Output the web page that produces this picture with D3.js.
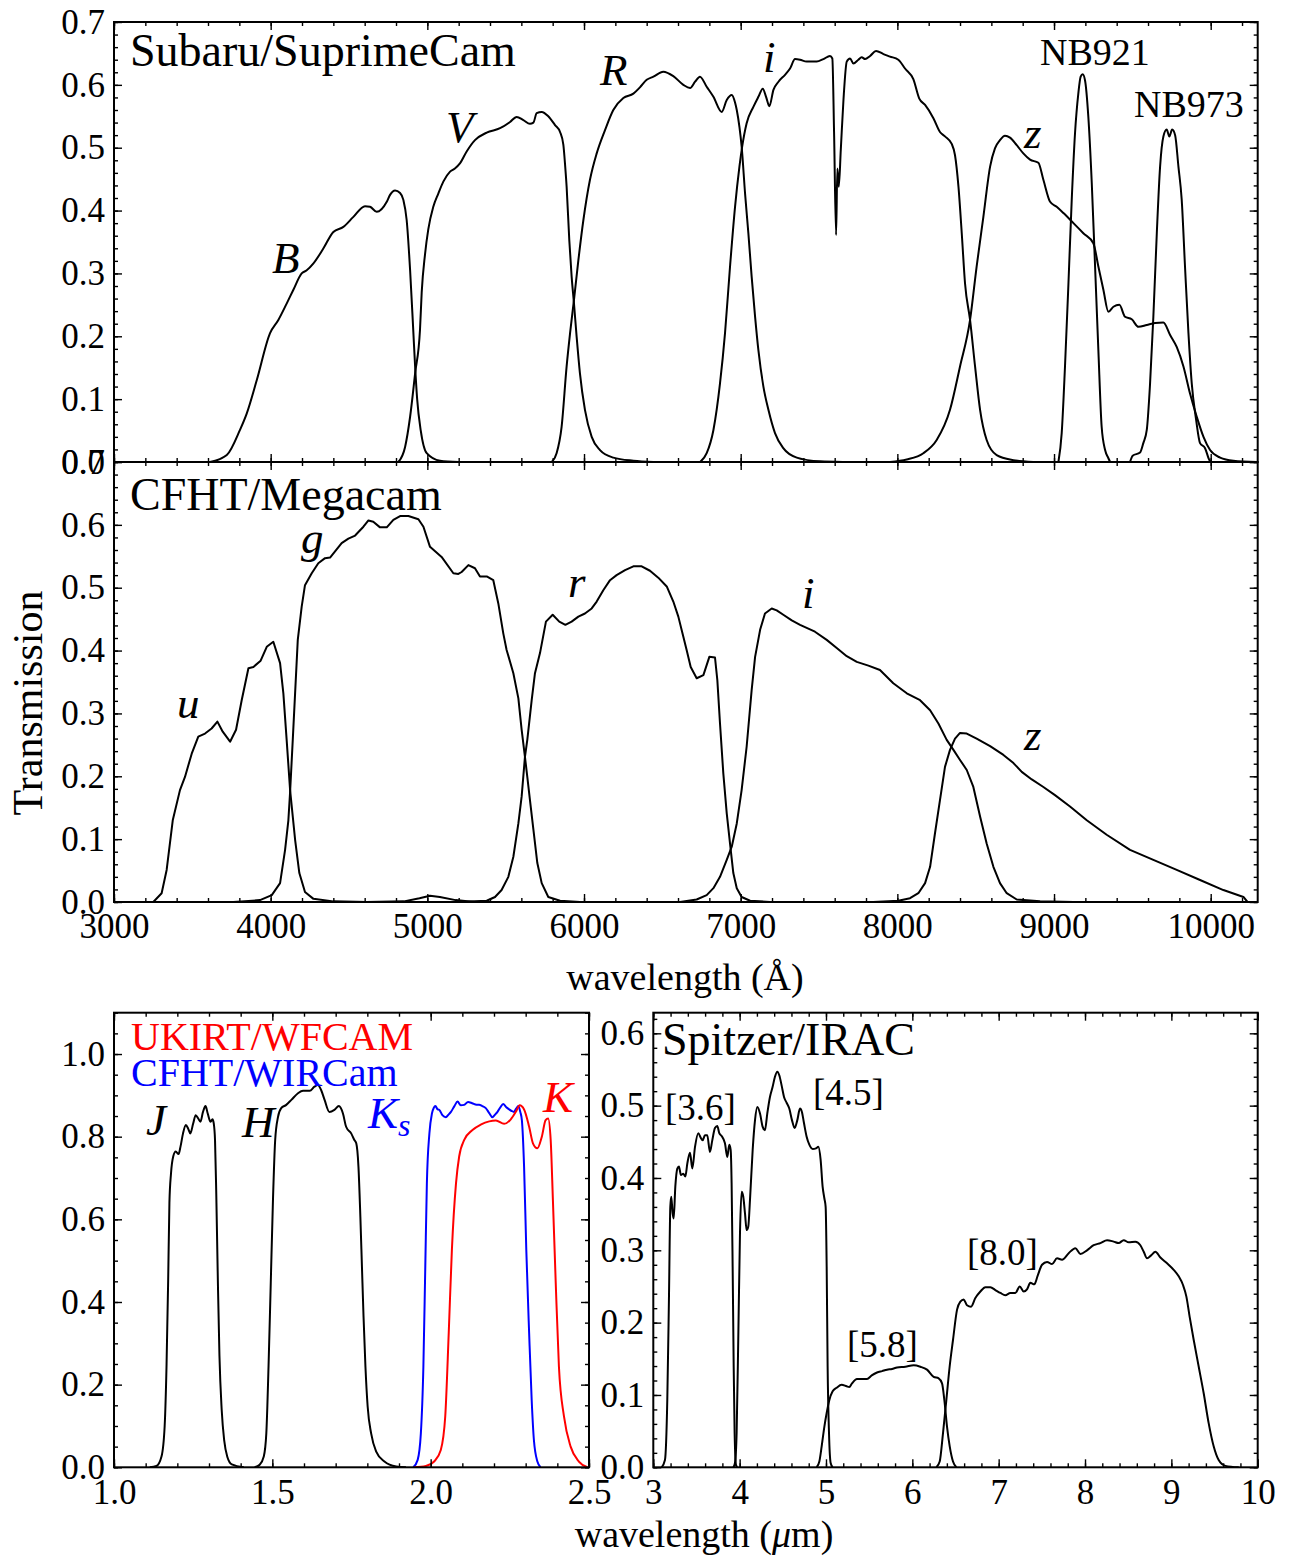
<!DOCTYPE html>
<html>
<head>
<meta charset="utf-8">
<script src="https://cdn.jsdelivr.net/npm/d3@7"></script>
<style>
  body { margin: 0; background: #fff; }
  text { font-family: 'Liberation Serif', 'Times New Roman', serif; fill: #000; }
</style>
</head>
<body>
<svg id="chart" width="1297" height="1559"></svg>
<script>
// ---- filter curves, [wavelength, transmission] ----
// Subaru / SuprimeCam (Angstrom)
const subaruB = [[3613,0],[3720,0.011],[3804,0.051],[3847,0.077],[3911,0.130],[3996,0.205],[4049,0.226],[4102,0.252],[4145,0.274],[4198,0.300],[4230,0.305],[4273,0.316],[4337,0.340],[4400,0.366],[4464,0.374],[4528,0.390],[4602,0.407],[4634,0.406],[4677,0.398],[4741,0.414],[4762,0.425],[4794,0.432],[4826,0.428],[4847,0.417],[4868,0.385],[4890,0.305],[4911,0.205],[4922,0.152],[4935,0.100],[4958,0.050],[4996,0.014],[5081,0.002],[5200,0]];
const subaruV = [[4815,0],[4858,0.024],[4890,0.072],[4922,0.141],[4953,0.210],[4964,0.270],[4985,0.330],[5006,0.370],[5038,0.406],[5070,0.427],[5102,0.446],[5145,0.462],[5176,0.467],[5208,0.475],[5251,0.494],[5304,0.512],[5379,0.524],[5464,0.531],[5528,0.541],[5570,0.549],[5613,0.544],[5655,0.538],[5677,0.540],[5698,0.555],[5730,0.557],[5772,0.550],[5815,0.536],[5847,0.525],[5868,0.505],[5880,0.470],[5889,0.438],[5906,0.353],[5921,0.295],[5936,0.252],[5953,0.199],[5974,0.141],[6006,0.083],[6049,0.040],[6102,0.019],[6187,0.007],[6315,0.002],[6443,0]];
const subaruR = [[5794,0],[5825,0.014],[5857,0.056],[5889,0.152],[5911,0.205],[5936,0.258],[5964,0.321],[5996,0.385],[6038,0.449],[6081,0.491],[6134,0.528],[6187,0.560],[6251,0.579],[6315,0.586],[6357,0.596],[6400,0.608],[6443,0.613],[6506,0.621],[6570,0.614],[6634,0.600],[6677,0.595],[6709,0.605],[6740,0.613],[6783,0.597],[6826,0.581],[6879,0.557],[6911,0.576],[6943,0.584],[6964,0.572],[6975,0.560],[6992,0.533],[7006,0.502],[7028,0.427],[7049,0.364],[7070,0.295],[7092,0.231],[7113,0.178],[7145,0.120],[7177,0.083],[7219,0.046],[7272,0.022],[7358,0.007],[7507,0.001],[7650,0]];
const subaruI = [[6741,0],[6783,0.014],[6826,0.051],[6868,0.125],[6900,0.205],[6932,0.311],[6964,0.406],[6992,0.470],[7009,0.501],[7038,0.539],[7081,0.565],[7113,0.581],[7141,0.594],[7162,0.581],[7183,0.566],[7209,0.592],[7241,0.605],[7283,0.616],[7315,0.626],[7347,0.641],[7379,0.640],[7421,0.637],[7485,0.637],[7528,0.641],[7570,0.646],[7585,0.642],[7596,0.525],[7609,0.361],[7617,0.467],[7626,0.438],[7639,0.497],[7656,0.576],[7677,0.637],[7698,0.642],[7719,0.634],[7751,0.640],[7772,0.644],[7794,0.641],[7826,0.646],[7864,0.654],[7911,0.649],[7953,0.645],[8006,0.640],[8049,0.626],[8102,0.609],[8140,0.578],[8177,0.568],[8230,0.547],[8272,0.525],[8304,0.518],[8347,0.506],[8368,0.488],[8390,0.438],[8411,0.364],[8432,0.284],[8464,0.226],[8496,0.152],[8528,0.083],[8570,0.035],[8634,0.011],[8741,0.003],[8868,0]];
const subaruZ = [[7953,0],[8060,0.004],[8166,0.014],[8251,0.035],[8336,0.083],[8400,0.152],[8464,0.226],[8506,0.311],[8549,0.390],[8592,0.470],[8623,0.499],[8655,0.512],[8687,0.519],[8719,0.516],[8762,0.504],[8804,0.491],[8847,0.481],[8900,0.476],[8932,0.449],[8975,0.414],[9017,0.406],[9060,0.396],[9124,0.380],[9187,0.364],[9251,0.348],[9283,0.311],[9315,0.274],[9347,0.239],[9379,0.247],[9417,0.250],[9453,0.231],[9496,0.227],[9539,0.215],[9592,0.218],[9645,0.221],[9698,0.222],[9741,0.202],[9783,0.183],[9826,0.152],[9868,0.109],[9911,0.072],[9954,0.040],[9996,0.019],[10060,0.007],[10145,0.002],[10294,0]];
const subaruNB921 = [[9028,0],[9049,0.046],[9070,0.152],[9092,0.284],[9113,0.417],[9134,0.523],[9155,0.586],[9170,0.613],[9183,0.617],[9198,0.607],[9219,0.549],[9241,0.443],[9262,0.311],[9283,0.178],[9304,0.056],[9326,0.019],[9347,0.006],[9358,0]];
const subaruNB973 = [[9485,0],[9502,0.010],[9549,0.015],[9570,0.030],[9592,0.051],[9613,0.125],[9634,0.231],[9656,0.364],[9677,0.470],[9698,0.518],[9719,0.529],[9736,0.518],[9754,0.529],[9773,0.520],[9794,0.470],[9815,0.417],[9836,0.311],[9858,0.205],[9879,0.125],[9907,0.067],[9932,0.030],[9964,0.022],[9992,0.003],[10007,0]];

// CFHT / Megacam (Angstrom)
const megaU = [[3251,0],[3304,0.014],[3336,0.051],[3375,0.130],[3421,0.178],[3453,0.199],[3496,0.236],[3538,0.263],[3581,0.268],[3623,0.276],[3660,0.287],[3694,0.271],[3741,0.255],[3779,0.274],[3815,0.321],[3858,0.372],[3890,0.374],[3936,0.384],[3975,0.406],[4017,0.414],[4060,0.380],[4081,0.332],[4102,0.258],[4124,0.178],[4156,0.099],[4183,0.046],[4219,0.016],[4273,0.005],[4400,0.001],[4613,0],[4850,0.001],[4950,0.006],[5017,0.010],[5080,0.008],[5180,0.003],[5300,0]];
const megaG = [[3762,0],[3932,0.003],[4007,0.011],[4060,0.030],[4092,0.083],[4113,0.130],[4124,0.175],[4141,0.258],[4173,0.417],[4198,0.470],[4219,0.504],[4262,0.523],[4304,0.539],[4347,0.547],[4379,0.548],[4453,0.571],[4496,0.578],[4539,0.583],[4592,0.597],[4624,0.607],[4655,0.605],[4698,0.596],[4741,0.596],[4783,0.608],[4826,0.614],[4879,0.614],[4943,0.609],[4975,0.597],[5017,0.565],[5091,0.549],[5166,0.523],[5198,0.522],[5219,0.525],[5262,0.536],[5304,0.531],[5336,0.518],[5379,0.518],[5421,0.512],[5453,0.475],[5485,0.427],[5506,0.401],[5549,0.364],[5581,0.324],[5602,0.274],[5623,0.231],[5638,0.199],[5655,0.162],[5677,0.115],[5702,0.062],[5730,0.030],[5772,0.008],[5847,0.002],[5974,0]];
const megaR = [[5187,0],[5379,0.002],[5432,0.008],[5474,0.019],[5517,0.040],[5549,0.072],[5581,0.125],[5602,0.168],[5623,0.231],[5638,0.258],[5666,0.321],[5687,0.364],[5719,0.396],[5757,0.446],[5800,0.457],[5842,0.446],[5881,0.441],[5921,0.446],[5964,0.454],[6006,0.459],[6049,0.467],[6081,0.478],[6123,0.496],[6166,0.512],[6208,0.520],[6262,0.528],[6315,0.534],[6368,0.534],[6421,0.527],[6474,0.516],[6528,0.502],[6570,0.478],[6602,0.454],[6634,0.422],[6655,0.401],[6681,0.374],[6719,0.356],[6762,0.361],[6800,0.390],[6836,0.389],[6851,0.353],[6868,0.284],[6889,0.205],[6911,0.141],[6932,0.093],[6953,0.046],[6975,0.022],[7006,0.008],[7060,0.002],[7187,0]];
const megaI = [[6613,0],[6719,0.004],[6783,0.011],[6826,0.022],[6868,0.040],[6911,0.067],[6943,0.088],[6975,0.125],[7006,0.178],[7038,0.247],[7070,0.337],[7092,0.390],[7124,0.433],[7155,0.459],[7198,0.467],[7230,0.464],[7272,0.457],[7326,0.448],[7379,0.441],[7474,0.430],[7549,0.417],[7613,0.404],[7677,0.391],[7741,0.382],[7815,0.376],[7889,0.369],[7974,0.348],[8060,0.332],[8145,0.321],[8209,0.305],[8262,0.284],[8315,0.258],[8358,0.242],[8400,0.226],[8443,0.210],[8485,0.183],[8528,0.136],[8570,0.093],[8613,0.056],[8655,0.030],[8698,0.014],[8762,0.004],[8911,0.001],[9124,0]];
const megaZ = [[7847,0],[8006,0.002],[8081,0.006],[8134,0.014],[8177,0.030],[8209,0.056],[8240,0.109],[8272,0.162],[8304,0.215],[8336,0.242],[8368,0.260],[8400,0.269],[8443,0.268],[8506,0.260],[8592,0.248],[8677,0.234],[8741,0.221],[8794,0.207],[8858,0.195],[8932,0.183],[9006,0.170],[9102,0.152],[9209,0.130],[9336,0.107],[9485,0.083],[9634,0.067],[9783,0.051],[9932,0.035],[10081,0.019],[10209,0.008],[10235,0]];

// UKIRT / WFCAM and CFHT / WIRCam (micron)
const wfcamJ = [[1.113,0],[1.134,0.003],[1.150,0.026],[1.160,0.100],[1.166,0.250],[1.171,0.450],[1.175,0.640],[1.180,0.711],[1.187,0.752],[1.195,0.764],[1.204,0.758],[1.210,0.776],[1.218,0.808],[1.227,0.828],[1.234,0.820],[1.241,0.808],[1.250,0.832],[1.258,0.852],[1.266,0.844],[1.273,0.836],[1.281,0.860],[1.289,0.874],[1.296,0.856],[1.305,0.836],[1.311,0.842],[1.315,0.832],[1.319,0.792],[1.323,0.660],[1.328,0.450],[1.333,0.270],[1.340,0.140],[1.348,0.065],[1.358,0.025],[1.372,0.007],[1.410,0]];
const wfcamH = [[1.444,0],[1.460,0.006],[1.473,0.026],[1.481,0.082],[1.488,0.244],[1.495,0.445],[1.502,0.647],[1.509,0.792],[1.518,0.848],[1.528,0.869],[1.544,0.877],[1.560,0.889],[1.581,0.905],[1.597,0.911],[1.618,0.911],[1.633,0.921],[1.644,0.925],[1.654,0.913],[1.665,0.889],[1.680,0.860],[1.696,0.865],[1.710,0.874],[1.723,0.856],[1.733,0.824],[1.749,0.808],[1.759,0.792],[1.765,0.784],[1.772,0.727],[1.778,0.606],[1.783,0.485],[1.788,0.365],[1.794,0.244],[1.801,0.147],[1.812,0.082],[1.828,0.038],[1.854,0.014],[1.891,0.002],[1.922,0]];
const wfcamK = [[1.948,0],[1.985,0.003],[2.011,0.014],[2.032,0.042],[2.046,0.123],[2.057,0.324],[2.067,0.526],[2.080,0.687],[2.090,0.752],[2.106,0.792],[2.132,0.816],[2.158,0.829],[2.185,0.837],[2.206,0.839],[2.232,0.831],[2.253,0.842],[2.271,0.863],[2.281,0.876],[2.295,0.866],[2.311,0.824],[2.323,0.784],[2.337,0.772],[2.351,0.800],[2.363,0.840],[2.371,0.844],[2.379,0.792],[2.386,0.647],[2.395,0.445],[2.405,0.244],[2.421,0.123],[2.442,0.050],[2.468,0.014],[2.495,0]];
const wircamKs = [[1.945,0],[1.959,0.018],[1.969,0.082],[1.977,0.244],[1.983,0.485],[1.988,0.687],[1.996,0.808],[2.004,0.856],[2.010,0.870],[2.015,0.874],[2.022,0.866],[2.027,0.865],[2.037,0.852],[2.048,0.847],[2.056,0.853],[2.064,0.860],[2.075,0.874],[2.085,0.885],[2.095,0.876],[2.106,0.877],[2.118,0.884],[2.131,0.881],[2.145,0.877],[2.153,0.877],[2.163,0.874],[2.174,0.869],[2.185,0.857],[2.195,0.847],[2.203,0.853],[2.211,0.860],[2.220,0.871],[2.229,0.879],[2.238,0.872],[2.248,0.866],[2.256,0.862],[2.263,0.860],[2.270,0.868],[2.277,0.874],[2.283,0.860],[2.288,0.840],[2.295,0.727],[2.302,0.526],[2.311,0.324],[2.319,0.163],[2.326,0.066],[2.337,0.014],[2.347,0]];

// Spitzer / IRAC (micron)
const irac36 = [[3.097,0],[3.135,0.010],[3.162,0.093],[3.181,0.231],[3.197,0.360],[3.208,0.374],[3.224,0.351],[3.236,0.344],[3.255,0.388],[3.278,0.413],[3.297,0.416],[3.320,0.404],[3.347,0.406],[3.371,0.402],[3.394,0.420],[3.425,0.435],[3.452,0.413],[3.483,0.443],[3.521,0.462],[3.548,0.456],[3.571,0.452],[3.598,0.459],[3.625,0.459],[3.656,0.436],[3.683,0.452],[3.714,0.469],[3.741,0.472],[3.764,0.462],[3.792,0.458],[3.830,0.448],[3.857,0.429],[3.880,0.446],[3.896,0.439],[3.907,0.393],[3.919,0.277],[3.931,0.139],[3.942,0.047],[3.958,0.003],[3.973,0]];
const irac45 = [[3.927,0],[3.946,0.006],[3.965,0.047],[3.985,0.185],[4.004,0.324],[4.023,0.381],[4.042,0.374],[4.062,0.351],[4.081,0.328],[4.100,0.333],[4.120,0.370],[4.151,0.439],[4.178,0.480],[4.205,0.498],[4.236,0.489],[4.266,0.471],[4.293,0.466],[4.320,0.489],[4.351,0.512],[4.382,0.526],[4.409,0.540],[4.436,0.547],[4.459,0.542],[4.486,0.528],[4.514,0.512],[4.544,0.504],[4.575,0.496],[4.606,0.480],[4.637,0.469],[4.668,0.480],[4.699,0.496],[4.722,0.491],[4.745,0.476],[4.776,0.457],[4.807,0.446],[4.846,0.440],[4.884,0.441],[4.911,0.443],[4.938,0.425],[4.961,0.388],[4.981,0.372],[4.996,0.360],[5.008,0.277],[5.019,0.139],[5.035,0.047],[5.054,0.006],[5.077,0]];
const irac58 = [[4.892,0],[4.923,0.008],[4.950,0.029],[4.981,0.056],[5.008,0.075],[5.039,0.093],[5.077,0.105],[5.124,0.110],[5.181,0.114],[5.239,0.112],[5.270,0.111],[5.301,0.116],[5.359,0.122],[5.420,0.122],[5.475,0.122],[5.530,0.127],[5.591,0.131],[5.650,0.133],[5.707,0.135],[5.765,0.136],[5.823,0.138],[5.919,0.139],[6.016,0.141],[6.093,0.139],[6.170,0.135],[6.247,0.125],[6.305,0.123],[6.344,0.116],[6.371,0.093],[6.402,0.056],[6.433,0.029],[6.471,0.008],[6.510,0]];
const irac80 = [[6.278,0],[6.317,0.008],[6.355,0.047],[6.394,0.093],[6.432,0.139],[6.471,0.176],[6.518,0.218],[6.556,0.229],[6.595,0.232],[6.633,0.224],[6.680,0.222],[6.730,0.234],[6.788,0.243],[6.846,0.249],[6.904,0.249],[6.962,0.245],[7.020,0.241],[7.077,0.238],[7.135,0.241],[7.193,0.241],[7.244,0.250],[7.290,0.243],[7.328,0.246],[7.367,0.255],[7.413,0.253],[7.452,0.265],[7.502,0.280],[7.560,0.284],[7.618,0.281],[7.676,0.289],[7.734,0.287],[7.811,0.296],[7.888,0.303],[7.946,0.295],[8.023,0.300],[8.100,0.307],[8.178,0.310],[8.255,0.314],[8.332,0.312],[8.390,0.310],[8.448,0.314],[8.506,0.311],[8.583,0.312],[8.641,0.307],[8.680,0.298],[8.718,0.289],[8.765,0.293],[8.815,0.298],[8.873,0.290],[8.950,0.282],[9.027,0.273],[9.085,0.264],[9.135,0.252],[9.174,0.236],[9.212,0.208],[9.259,0.176],[9.317,0.139],[9.375,0.102],[9.432,0.061],[9.490,0.029],[9.548,0.010],[9.626,0.002],[9.780,0]];

// ---- tick values ----
const opticalTicks = [3000, 4000, 5000, 6000, 7000, 8000, 9000, 10000];
const opticalYTicks = [0, 0.1, 0.2, 0.3, 0.4, 0.5, 0.6, 0.7];
const nirXTicks = [1.0, 1.5, 2.0, 2.5];
const nirYTicks = [0, 0.2, 0.4, 0.6, 0.8, 1.0];
const iracXTicks = [3, 4, 5, 6, 7, 8, 9, 10];
const iracYTicks = [0, 0.1, 0.2, 0.3, 0.4, 0.5, 0.6];

const svg = d3.select("#chart");
const fontFam = "'Liberation Serif', 'Times New Roman', serif";

function drawPanel(p) {
  const x = d3.scaleLinear().domain(p.xDom).range([p.left, p.right]);
  const y = d3.scaleLinear().domain(p.yDom).range([p.bottom, p.top]);

  svg.append("clipPath").attr("id", "clip-" + p.id)
    .append("rect")
    .attr("x", p.left).attr("y", p.top)
    .attr("width", p.right - p.left).attr("height", p.bottom - p.top);

  const line = d3.line().x(d => x(d[0])).y(d => y(d[1])).curve(p.curve);
  const lines = svg.append("g").attr("clip-path", `url(#clip-${p.id})`);
  p.series.forEach(s => {
    lines.append("path")
      .attr("d", line(s.data))
      .attr("fill", "none")
      .attr("stroke", s.color || "#000")
      .attr("stroke-width", 2)
      .attr("stroke-linejoin", "round");
  });

  // ticks point inward on all four sides, minor and major
  const addAxis = (fn, scale, vals, size, fmt, pad, tx, ty) => {
    const g = svg.append("g")
      .attr("transform", `translate(${tx},${ty})`)
      .call(fn(scale).tickValues(vals).tickSizeInner(-size).tickSizeOuter(0)
        .tickPadding(pad).tickFormat(fmt));
    g.select(".domain").remove();
    g.selectAll(".tick line").attr("stroke", "#000").attr("stroke-width", 1.4);
    g.selectAll(".tick text").attr("font-size", 35).attr("font-family", fontFam).attr("fill", "#000");
    return g;
  };
  const none = () => "";
  addAxis(d3.axisLeft, y, p.yMinor, 4, none, 9, p.left, 0);
  addAxis(d3.axisRight, y, p.yMinor, 4, none, 9, p.right, 0);
  addAxis(d3.axisBottom, x, p.xMinor, 4, none, 9, 0, p.bottom);
  addAxis(d3.axisTop, x, p.xMinor, 4, none, 9, 0, p.top);
  addAxis(d3.axisLeft, y, p.yMajor, 8, p.yFmt, 9, p.left, 0);
  addAxis(d3.axisRight, y, p.yMajor, 8, none, 9, p.right, 0);
  addAxis(d3.axisBottom, x, p.xMajor, 8, p.xFmt || none, p.xPad || 11, 0, p.bottom);
  addAxis(d3.axisTop, x, p.xMajor, 8, none, 9, 0, p.top);

  svg.append("rect")
    .attr("x", p.left).attr("y", p.top)
    .attr("width", p.right - p.left).attr("height", p.bottom - p.top)
    .attr("fill", "none").attr("stroke", "#000").attr("stroke-width", 2);
}

const f1 = d3.format(".1f");
const optMinorX = d3.range(3000, 10301, 200);
const optMinorY = d3.range(0, 0.701, 0.02);

drawPanel({
  id: "subaru", left: 114, right: 1257.7, top: 22, bottom: 462,
  xDom: [3000, 10300], yDom: [0, 0.7],
  xMajor: opticalTicks, xMinor: optMinorX, yMajor: opticalYTicks, yMinor: optMinorY,
  yFmt: f1, xFmt: null, curve: d3.curveMonotoneX,
  series: [{data: subaruB}, {data: subaruV}, {data: subaruR}, {data: subaruI},
           {data: subaruZ}, {data: subaruNB921}, {data: subaruNB973}]
});

drawPanel({
  id: "mega", left: 114, right: 1257.7, top: 462, bottom: 902,
  xDom: [3000, 10300], yDom: [0, 0.7],
  xMajor: opticalTicks, xMinor: optMinorX, yMajor: opticalYTicks, yMinor: optMinorY,
  yFmt: f1, xFmt: d => d, xPad: 11, curve: d3.curveLinear,
  series: [{data: megaU}, {data: megaG}, {data: megaR}, {data: megaI}, {data: megaZ}]
});

drawPanel({
  id: "nir", left: 114, right: 589, top: 1012.7, bottom: 1467.3,
  xDom: [1.0, 2.5], yDom: [0, 1.1],
  xMajor: nirXTicks, xMinor: d3.range(1.0, 2.501, 0.1),
  yMajor: nirYTicks, yMinor: d3.range(0, 1.101, 0.05),
  yFmt: f1, xFmt: f1, xPad: 12, curve: d3.curveMonotoneX,
  series: [{data: wfcamJ}, {data: wfcamH}, {data: wircamKs, color: "#0000ff"}, {data: wfcamK, color: "#ff0000"}]
});

drawPanel({
  id: "irac", left: 653.3, right: 1257.7, top: 1012.7, bottom: 1467.3,
  xDom: [3, 10], yDom: [0, 0.6285],
  xMajor: iracXTicks, xMinor: d3.range(3, 10.001, 0.2),
  yMajor: iracYTicks, yMinor: d3.range(0, 0.6285, 0.02),
  yFmt: f1, xFmt: d3.format("d"), xPad: 12, curve: d3.curveMonotoneX,
  series: [{data: irac36}, {data: irac45}, {data: irac58}, {data: irac80}]
});

// ---- text ----
function label(txt, x, y, size, opts = {}) {
  return svg.append("text")
    .attr("x", x).attr("y", y)
    .attr("font-size", size)
    .attr("font-style", opts.italic ? "italic" : "normal")
    .attr("text-anchor", opts.anchor || "start")
    .attr("fill", opts.color || "#000")
    .style("fill", opts.color || "#000")
    .text(txt);
}

// panel titles
label("Subaru/SuprimeCam", 130, 66, 46);
label("CFHT/Megacam", 130, 510, 46);
label("UKIRT/WFCAM", 131, 1050, 40, {color: "#ff0000"});
label("CFHT/WIRCam", 131, 1086, 40, {color: "#0000ff"});
label("Spitzer/IRAC", 662, 1055, 46);

// filter names, Subaru
label("B", 272, 273, 45, {italic: true});
label("V", 446, 142, 45, {italic: true});
label("R", 600, 85, 45, {italic: true});
label("i", 763, 72, 45, {italic: true});
label("z", 1024, 148, 45, {italic: true});
label("NB921", 1040, 65, 38);
label("NB973", 1134, 117, 38);

// filter names, Megacam
label("u", 177, 718, 45, {italic: true});
label("g", 301, 553, 45, {italic: true});
label("r", 568, 597, 45, {italic: true});
label("i", 802, 608, 45, {italic: true});
label("z", 1024, 750, 45, {italic: true});

// near-IR
label("J", 146, 1135, 45, {italic: true});
label("H", 242, 1137, 45, {italic: true});
const ks = label("K", 368, 1128, 45, {italic: true, color: "#0000ff"});
ks.append("tspan").attr("font-size", 32).attr("dy", 8).text("s");
label("K", 543, 1112, 45, {italic: true, color: "#ff0000"});

// IRAC channels
label("[3.6]", 665, 1120, 37);
label("[4.5]", 813, 1105, 37);
label("[5.8]", 847, 1357, 37);
label("[8.0]", 967, 1265, 37);

// axis labels
svg.append("text")
  .attr("transform", "translate(42,703) rotate(-90)")
  .attr("text-anchor", "middle").attr("font-size", 42)
  .text("Transmission");
label("wavelength (\u00C5)", 685, 990, 38, {anchor: "middle"});
const um = label("wavelength (", 704, 1547, 38, {anchor: "middle"});
um.append("tspan").attr("font-style", "italic").text("\u03BC");
um.append("tspan").text("m)");
</script>
</body>
</html>
